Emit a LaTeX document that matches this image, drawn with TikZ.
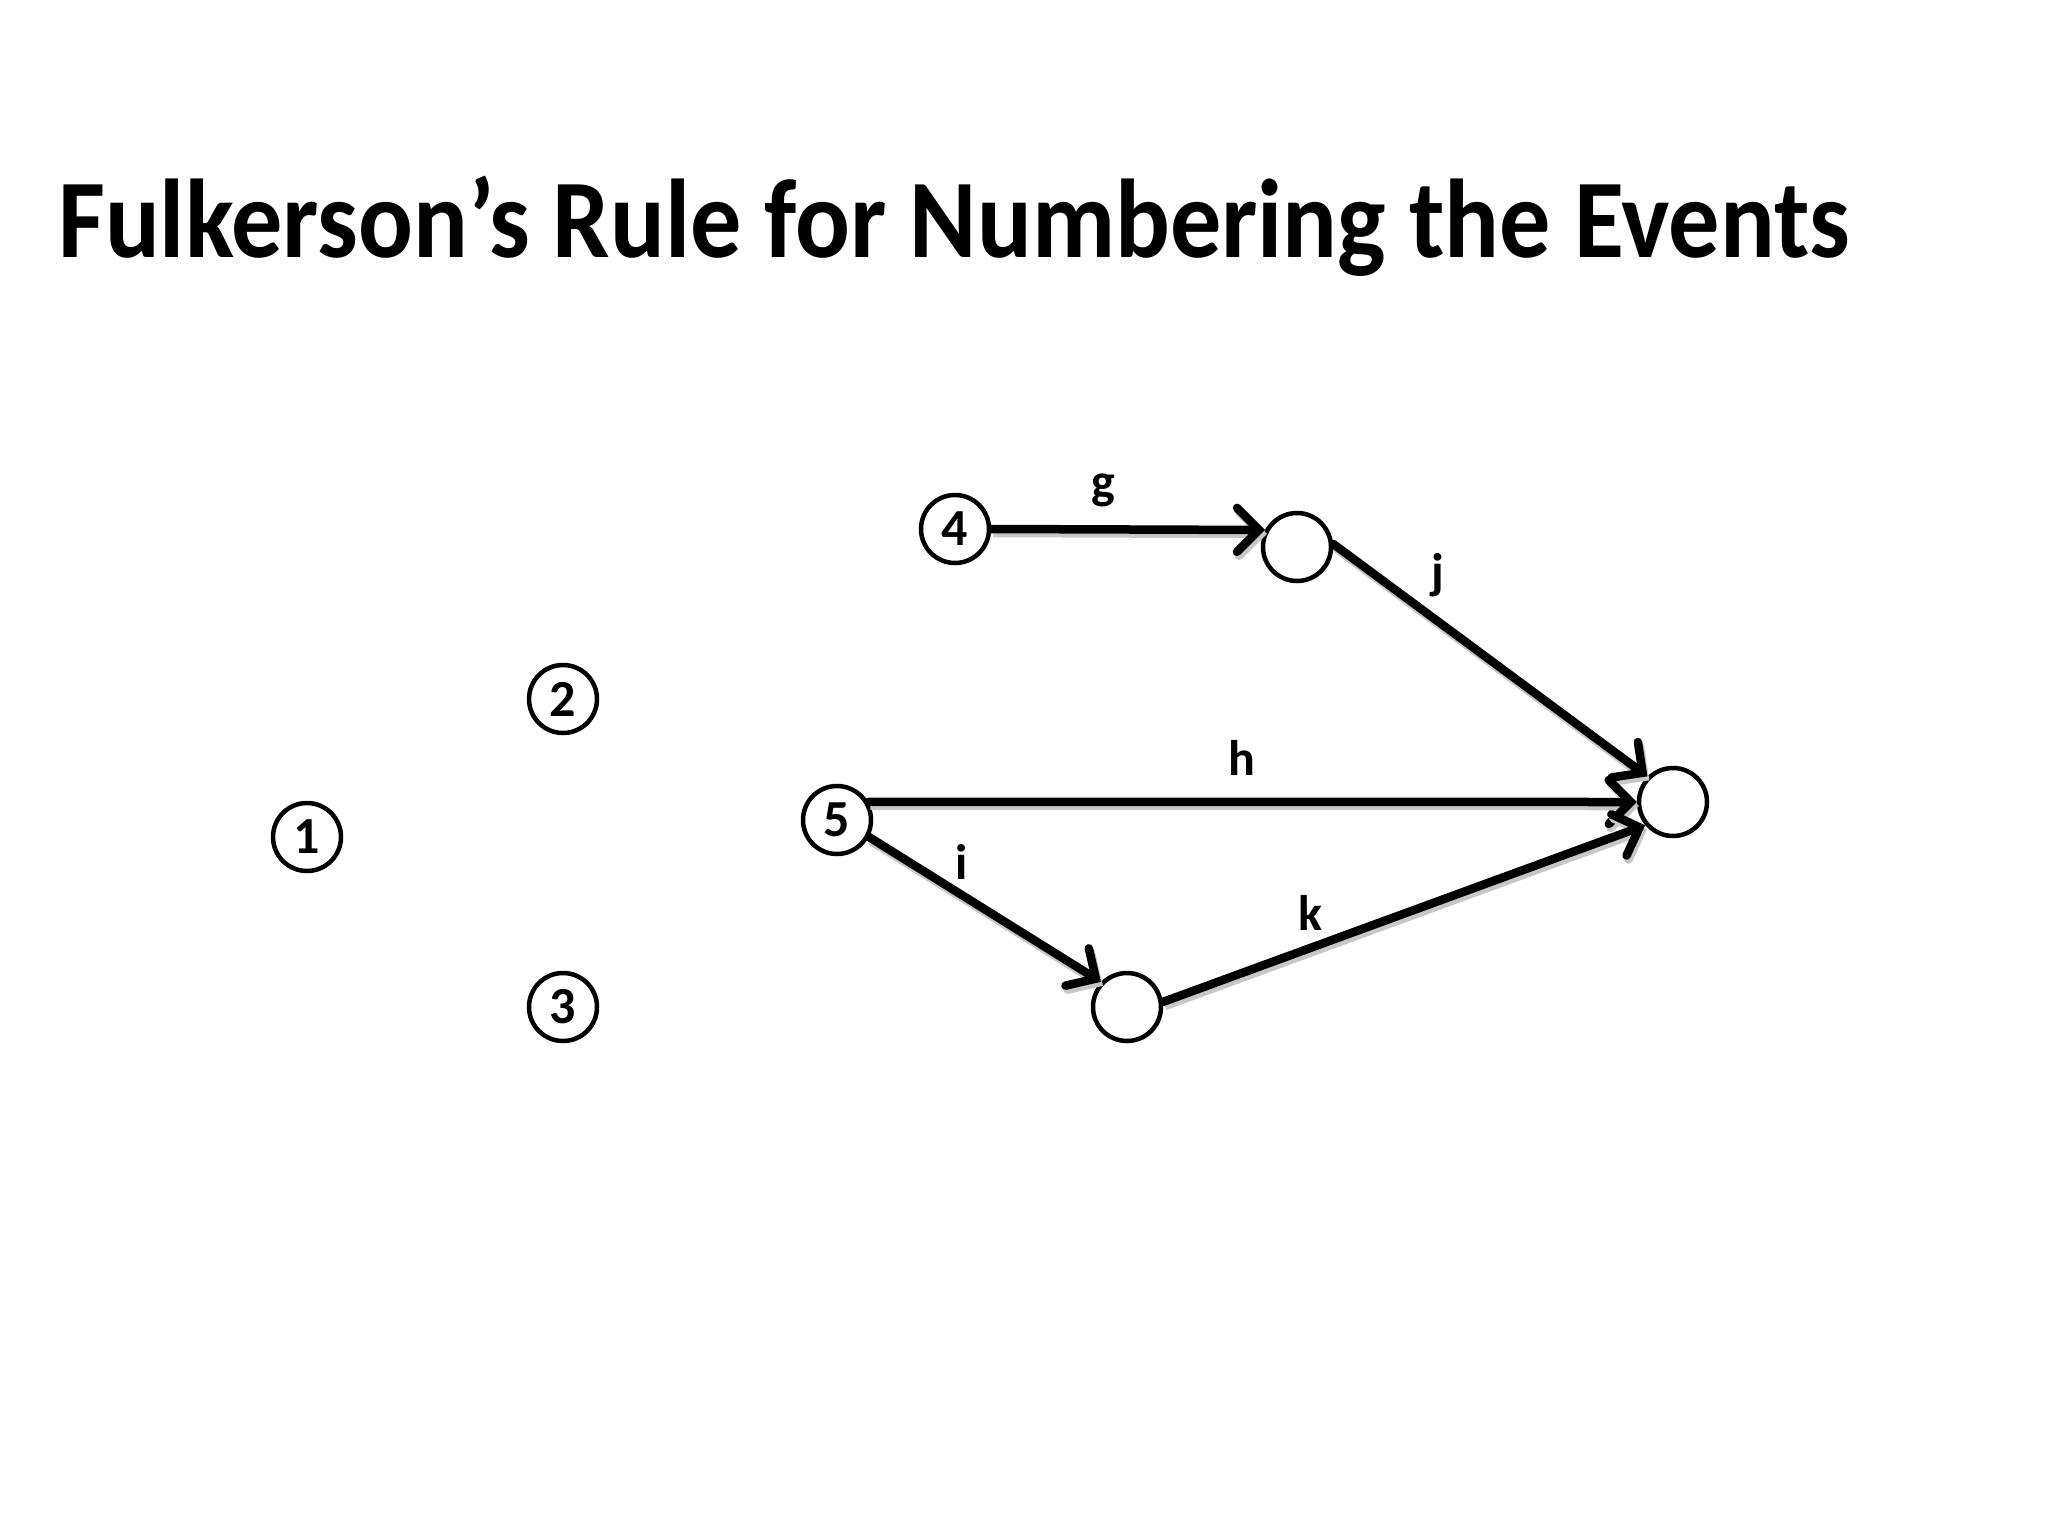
\documentclass[tikz,border=0pt]{standalone}
\usepackage{fontspec}
\usepackage{graphicx}
\setmainfont{Carlito}
\usetikzlibrary{arrows.meta}
\begin{document}
\begin{tikzpicture}[x=1pt,y=-1pt,
  ev/.style={circle,draw=black,line width=4.5pt,minimum size=68pt,inner sep=0pt,fill=white,font=\fontsize{52}{54}\selectfont\bfseries},
  act/.style={line width=8.5pt,-{Straight Barb[length=22pt,width=44pt,line cap=round]},line cap=round,
    preaction={draw=black!22,line width=8.5pt,transform canvas={xshift=2pt,yshift=-4pt}}},
  lbl/.style={font=\fontsize{50}{52}\selectfont\bfseries,inner sep=0pt}]
\useasboundingbox[fill=white] (0,0) rectangle (2048,1536);
\node[anchor=base west,inner sep=0pt,font=\fontsize{112}{120}\selectfont\bfseries] (title) at (58,257) {\resizebox{1792pt}{\height}{Fulkerson’s Rule for Numbering the Events}};
\node[ev] (n1) at (307,837) {1};
\node[ev] (n2) at (563,699) {2};
\node[ev] (n3) at (563,1007) {3};
\node[ev] (n4) at (955,529) {4};
\node[ev] (n5) at (837,820) {5};
\node[ev] (A) at (1297,547) {};
\node[ev] (B) at (1127,1007) {};
\node[ev] (C) at (1673,802) {};
\draw[act] (n4.east) -- (A.152);
\draw[act] (A.5) -- (C.135);
\draw[act] (n5.30) -- (C.west);
\draw[act] (n5.-28) -- (B.136);
\draw[act] (B.8) -- (C.-140);
\node[lbl] (lg) at (1103,490) {g};
\node[lbl] (lj) at (1438,575) {j};
\node[lbl] (lh) at (1242,758) {h};
\node[lbl] (li) at (962,862) {i};
\node[lbl] (lk) at (1310,913) {k};
\end{tikzpicture}
\end{document}
